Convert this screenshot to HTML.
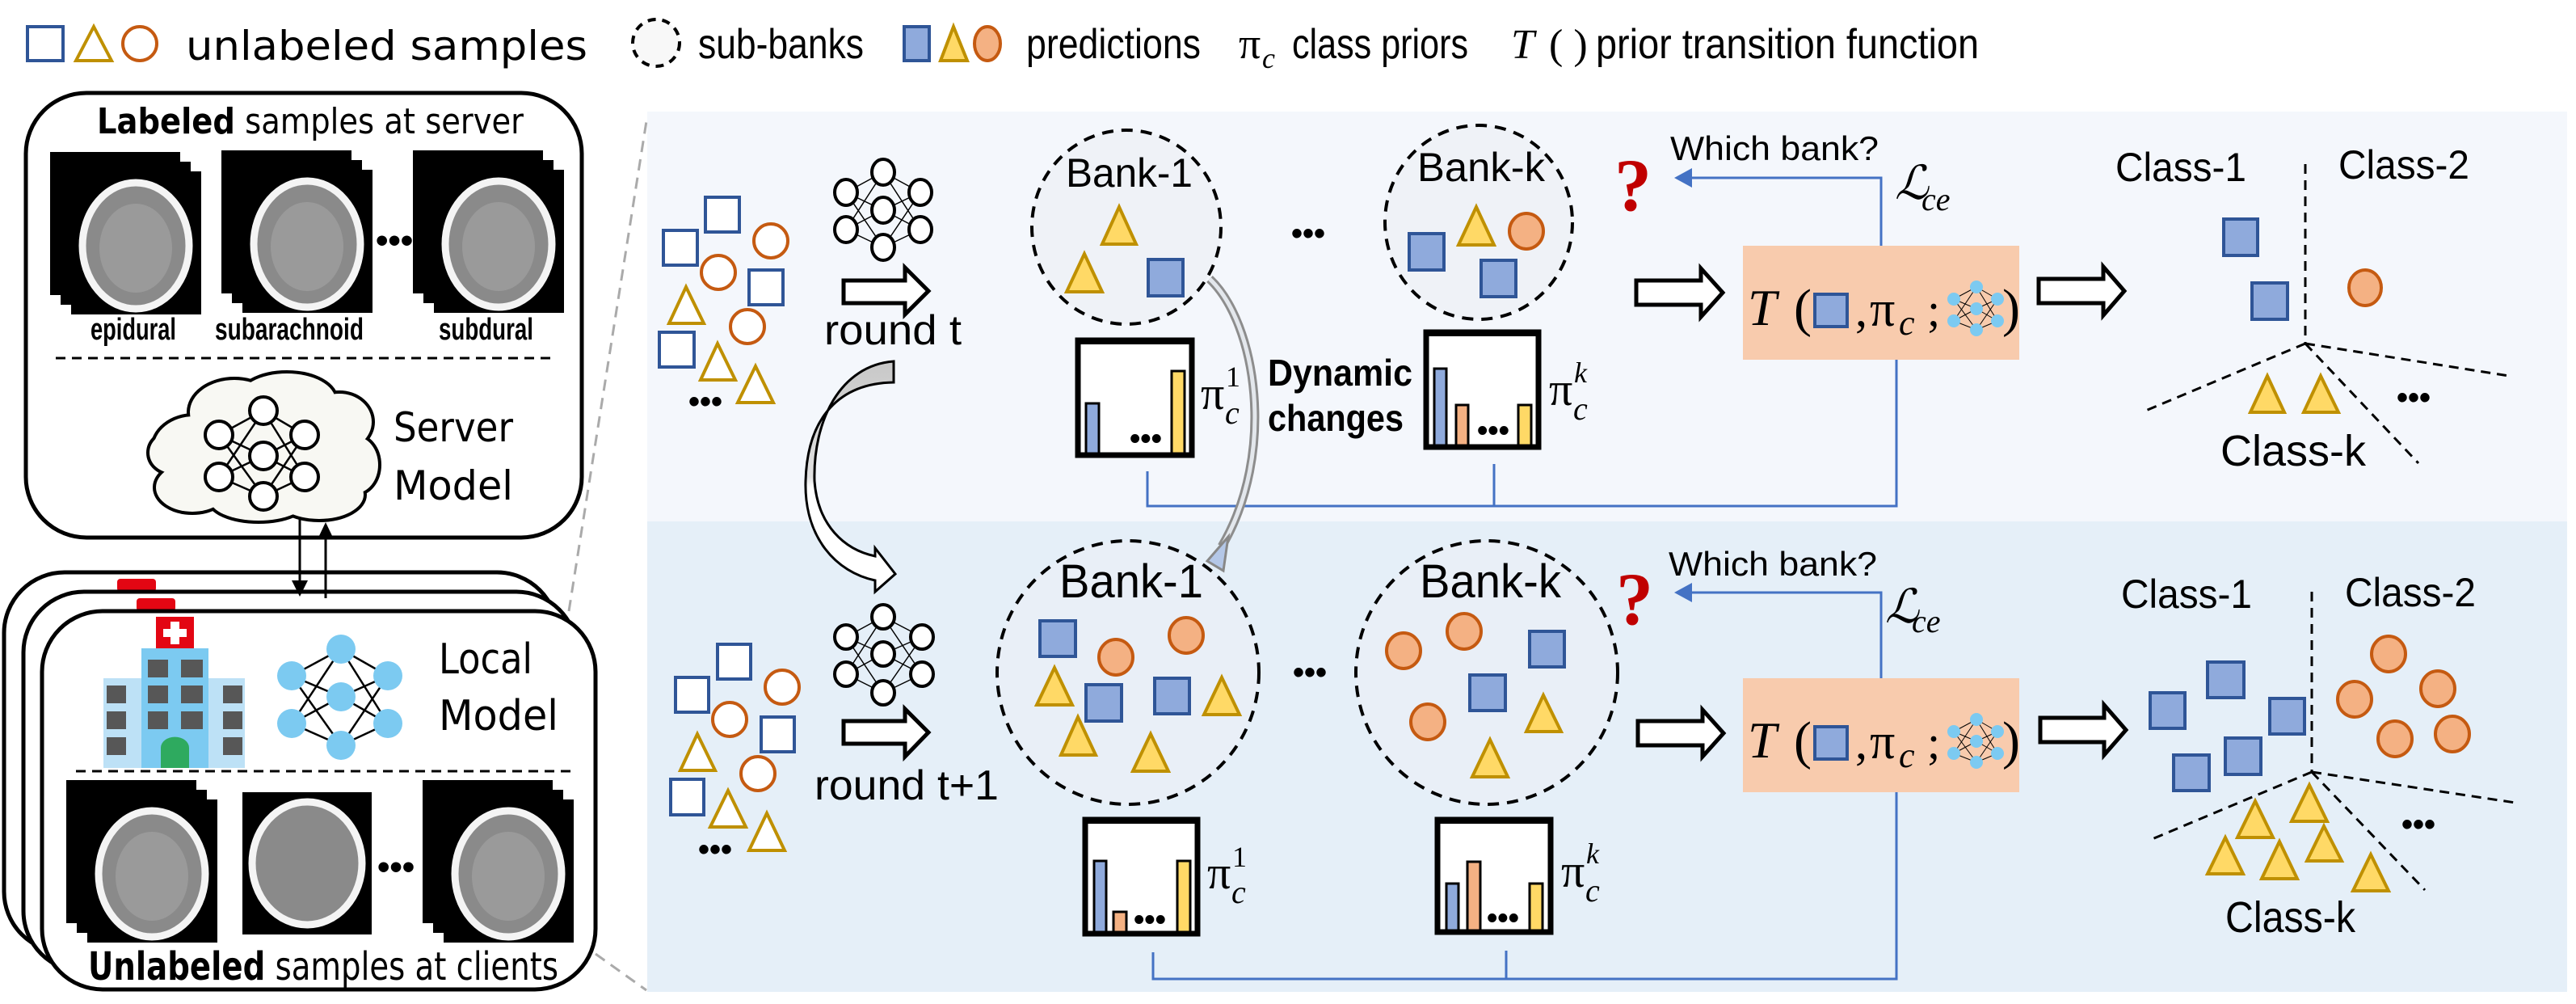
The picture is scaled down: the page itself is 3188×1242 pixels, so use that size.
<!DOCTYPE html>
<html><head><meta charset="utf-8"><style>
html,body{margin:0;padding:0;background:#fff}
svg{display:block}
.n{font-family:"Liberation Sans Narrow","Liberation Sans",sans-serif}
.w{font-family:"DejaVu Sans","Liberation Sans",sans-serif}
.m{font-family:"Liberation Serif","DejaVu Serif",serif;font-style:italic}
.mr{font-family:"Liberation Serif","DejaVu Serif",serif}
</style></head><body>
<svg width="3188" height="1242" viewBox="0 0 3188 1242" xmlns="http://www.w3.org/2000/svg">
<defs>
<g id="ct">
 <rect x="0" y="0" width="161" height="177" fill="#000"/>
 <ellipse cx="80" cy="92" rx="66" ry="78" fill="#8a8a8a" stroke="#f4f4f4" stroke-width="9"/>
 <ellipse cx="80" cy="95" rx="45" ry="55" fill="#9a9a9a"/>
</g>
<g id="stack">
 <rect x="0" y="0" width="161" height="177" fill="#000"/>
 <rect x="13" y="12" width="161" height="177" fill="#000"/>
 <use href="#ct" x="26" y="24"/>
</g>
</defs>

<!-- panels -->
<rect x="801" y="138" width="2376" height="507" fill="#f4f7fc"/>
<rect x="801" y="645" width="2376" height="582" fill="#e5eff8"/>

<!-- legend -->
<rect x="34" y="33" width="44" height="42" fill="#fff" stroke="#2f5597" stroke-width="4"/>
<polygon points="94,75 116,33 138,75" fill="#fff" stroke="#bf9000" stroke-width="4"/>
<ellipse cx="173" cy="54" rx="21" ry="21" fill="#fff" stroke="#c55a11" stroke-width="4"/>
<text x="230" y="74" class="w" font-size="50" textLength="497" lengthAdjust="spacingAndGlyphs">unlabeled samples</text>
<circle cx="812" cy="53" r="29" fill="#f8f8f8" stroke="#000" stroke-width="4" stroke-dasharray="10 8"/>
<text x="864" y="72" class="n" font-size="52" textLength="205" lengthAdjust="spacingAndGlyphs">sub-banks</text>
<rect x="1119" y="33" width="31" height="42" fill="#8faadc" stroke="#2f5597" stroke-width="4"/>
<polygon points="1164,75 1180,33 1197,75" fill="#ffd966" stroke="#bf9000" stroke-width="4"/>
<ellipse cx="1222" cy="54" rx="16" ry="21" fill="#f4b183" stroke="#c55a11" stroke-width="4"/>
<text x="1270" y="72" class="n" font-size="52" textLength="216" lengthAdjust="spacingAndGlyphs">predictions</text>
<text x="1533" y="72" class="mr" font-size="54">π</text><text x="1562" y="84" class="m" font-size="36">c</text>
<text x="1599" y="72" class="n" font-size="52" textLength="218" lengthAdjust="spacingAndGlyphs">class priors</text>
<text x="1870" y="72" class="m" font-size="52">T</text><text x="1917" y="72" class="mr" font-size="52">( )</text>
<text x="1975" y="72" class="n" font-size="52" textLength="474" lengthAdjust="spacingAndGlyphs">prior transition function</text>

<!-- grey dashed zoom lines -->
<line x1="704" y1="756" x2="800" y2="150" stroke="#aaa" stroke-width="3" stroke-dasharray="14 9"/>
<line x1="737" y1="1180" x2="800" y2="1225" stroke="#aaa" stroke-width="3" stroke-dasharray="14 9"/>

<!-- server box -->
<rect x="32" y="115" width="688" height="550" rx="75" ry="75" fill="#fff" stroke="#000" stroke-width="5"/>
<text x="120" y="165" class="w" font-size="44" textLength="528" lengthAdjust="spacingAndGlyphs"><tspan font-weight="bold">Labeled</tspan> samples at server</text>
<use href="#stack" x="62" y="188"/>
<use href="#stack" x="274" y="186"/>
<use href="#stack" x="511" y="186"/>
<text x="465" y="312" font-size="44" font-weight="bold" class="n">•••</text>
<text x="112" y="420" class="n" font-size="38" font-weight="bold" textLength="106" lengthAdjust="spacingAndGlyphs">epidural</text>
<text x="266" y="420" class="n" font-size="38" font-weight="bold" textLength="184" lengthAdjust="spacingAndGlyphs">subarachnoid</text>
<text x="543" y="420" class="n" font-size="38" font-weight="bold" textLength="117" lengthAdjust="spacingAndGlyphs">subdural</text>
<line x1="69" y1="443" x2="683" y2="443" stroke="#000" stroke-width="3" stroke-dasharray="12 8"/>

<!-- cloud -->
<g stroke="#000" stroke-width="8" fill="#f8f8f3">
<ellipse cx="240" cy="555" rx="50" ry="40"/><ellipse cx="290" cy="510" rx="55" ry="40"/><ellipse cx="355" cy="495" rx="60" ry="33"/><ellipse cx="420" cy="522" rx="40" ry="35"/><ellipse cx="440" cy="575" rx="28" ry="35"/><ellipse cx="395" cy="612" rx="55" ry="30"/><ellipse cx="320" cy="618" rx="60" ry="26"/><ellipse cx="238" cy="603" rx="45" ry="30"/><ellipse cx="213" cy="560" rx="28" ry="25"/>
</g>
<g fill="#f8f8f3">
<ellipse cx="240" cy="555" rx="50" ry="40"/><ellipse cx="290" cy="510" rx="55" ry="40"/><ellipse cx="355" cy="495" rx="60" ry="33"/><ellipse cx="420" cy="522" rx="40" ry="35"/><ellipse cx="440" cy="575" rx="28" ry="35"/><ellipse cx="395" cy="612" rx="55" ry="30"/><ellipse cx="320" cy="618" rx="60" ry="26"/><ellipse cx="238" cy="603" rx="45" ry="30"/><ellipse cx="213" cy="560" rx="28" ry="25"/><ellipse cx="330" cy="560" rx="110" ry="60"/>
</g>
<g stroke="#000" stroke-width="2.5">
<path d="M271 538L326 508M271 538L326 564M271 538L326 614M271 590L326 508M271 590L326 564M271 590L326 614M377 538L326 508M377 538L326 564M377 538L326 614M377 590L326 508M377 590L326 564M377 590L326 614"/>
</g>
<g fill="#fff" stroke="#000" stroke-width="4">
<circle cx="271" cy="538" r="17"/><circle cx="271" cy="590" r="17"/><circle cx="326" cy="508" r="17"/><circle cx="326" cy="564" r="17"/><circle cx="326" cy="614" r="17"/><circle cx="377" cy="538" r="17"/><circle cx="377" cy="590" r="17"/>
</g>
<text x="487" y="546" class="w" font-size="50" textLength="148" lengthAdjust="spacingAndGlyphs">Server</text>
<text x="487" y="618" class="w" font-size="50" textLength="148" lengthAdjust="spacingAndGlyphs">Model</text>

<!-- client boxes -->
<rect x="5" y="708" width="685" height="470" rx="75" fill="#fff" stroke="#000" stroke-width="5"/>
<rect x="145" y="716" width="48" height="16" rx="4" fill="#e30613"/>
<rect x="29" y="732" width="685" height="470" rx="75" fill="#fff" stroke="#000" stroke-width="5"/>
<rect x="169" y="740" width="48" height="16" rx="4" fill="#e30613"/>
<rect x="52" y="756" width="685" height="468" rx="75" fill="#fff" stroke="#000" stroke-width="5"/>
<line x1="371" y1="641" x2="371" y2="720" stroke="#000" stroke-width="3"/>
<polygon points="361,718 381,718 371,738" fill="#000"/>
<line x1="403" y1="740" x2="403" y2="665" stroke="#000" stroke-width="3"/>
<polygon points="393,667 413,667 403,646" fill="#000"/>
<!-- hospital -->
<rect x="128" y="839" width="175" height="111" fill="#bde1f6"/>
<rect x="175" y="802" width="83" height="148" fill="#7ccaf1"/>
<rect x="193" y="763" width="47" height="39" fill="#e30613"/>
<rect x="211" y="769" width="11" height="28" fill="#fff"/><rect x="202" y="778" width="29" height="10" fill="#fff"/>
<g fill="#575757">
<rect x="183" y="816" width="25" height="22"/><rect x="224" y="816" width="27" height="22"/>
<rect x="132" y="848" width="24" height="22"/><rect x="183" y="848" width="25" height="22"/><rect x="224" y="848" width="27" height="22"/><rect x="276" y="848" width="24" height="22"/>
<rect x="132" y="880" width="24" height="22"/><rect x="183" y="880" width="25" height="22"/><rect x="224" y="880" width="27" height="22"/><rect x="276" y="880" width="24" height="22"/>
<rect x="132" y="912" width="24" height="22"/><rect x="276" y="912" width="24" height="22"/>
</g>
<path d="M199 950V925a17 13 0 0 1 35 0V950Z" fill="#2eaa5f"/>
<g stroke="#000" stroke-width="2.5">
<path d="M361 836L422 803M361 836L422 862M361 836L422 922M361 895L422 803M361 895L422 862M361 895L422 922M480 836L422 803M480 836L422 862M480 836L422 922M480 895L422 803M480 895L422 862M480 895L422 922"/>
</g>
<g fill="#7ccaf1">
<ellipse cx="361" cy="836" rx="18" ry="18"/><ellipse cx="361" cy="895" rx="18" ry="18"/><ellipse cx="422" cy="803" rx="18" ry="18"/><ellipse cx="422" cy="862" rx="18" ry="18"/><ellipse cx="422" cy="922" rx="18" ry="18"/><ellipse cx="480" cy="836" rx="18" ry="18"/><ellipse cx="480" cy="895" rx="18" ry="18"/>
</g>
<text x="543" y="833" class="w" font-size="52" textLength="116" lengthAdjust="spacingAndGlyphs">Local</text>
<text x="543" y="903" class="w" font-size="52" textLength="148" lengthAdjust="spacingAndGlyphs">Model</text>
<line x1="94" y1="954" x2="709" y2="954" stroke="#000" stroke-width="3" stroke-dasharray="12 8"/>
<use href="#stack" x="82" y="965"/>
<rect x="300" y="980" width="160" height="176" fill="#000"/>
<ellipse cx="380" cy="1068" rx="68" ry="76" fill="#8a8a8a" stroke="#f4f4f4" stroke-width="9"/>
<use href="#stack" x="523" y="965"/>
<text x="467" y="1087" font-size="44" font-weight="bold" class="n">•••</text>
<text x="109" y="1212" class="w" font-size="48" textLength="582" lengthAdjust="spacingAndGlyphs"><tspan font-weight="bold">Unlabeled</tspan> samples at clients</text>

<!-- ===== TOP PANEL ===== -->
<g fill="#fff" stroke="#2f5597" stroke-width="4">
<rect x="873" y="244" width="42" height="43"/><rect x="821" y="285" width="42" height="43"/><rect x="927" y="334" width="42" height="43"/><rect x="816" y="411" width="43" height="43"/>
</g>
<g fill="#fff" stroke="#c55a11" stroke-width="4">
<circle cx="954" cy="298" r="21"/><circle cx="889" cy="337" r="21"/><circle cx="925" cy="404" r="21"/>
</g>
<g fill="#fff" stroke="#bf9000" stroke-width="4">
<polygon points="828,400 849,355 871,400"/><polygon points="867,470 888,425 910,470"/><polygon points="913,498 935,453 957,498"/>
</g>
<text x="852" y="510" font-size="40" font-weight="bold" class="n">•••</text>
<g stroke="#000" stroke-width="1.5">
<path d="M1047 238L1093 213M1047 238L1093 260M1047 238L1093 306M1047 284L1093 213M1047 284L1093 260M1047 284L1093 306M1139 238L1093 213M1139 238L1093 260M1139 238L1093 306M1139 284L1093 213M1139 284L1093 260M1139 284L1093 306"/>
</g>
<g fill="#fff" stroke="#000" stroke-width="4">
<ellipse cx="1047" cy="238" rx="14" ry="16"/><ellipse cx="1047" cy="284" rx="14" ry="16"/><ellipse cx="1093" cy="213" rx="14" ry="16"/><ellipse cx="1093" cy="260" rx="14" ry="16"/><ellipse cx="1093" cy="306" rx="14" ry="16"/><ellipse cx="1139" cy="238" rx="14" ry="16"/><ellipse cx="1139" cy="284" rx="14" ry="16"/>
</g>
<polygon points="1044,347 1120,347 1120,331 1149,360 1120,389 1120,375 1044,375" fill="#fff" stroke="#000" stroke-width="5"/>
<text x="1020" y="426" class="n" font-size="52" textLength="170" lengthAdjust="spacingAndGlyphs">round t</text>

<ellipse cx="1394" cy="281" rx="117" ry="120" fill="#eff2f7" stroke="#000" stroke-width="4" stroke-dasharray="14 10"/>
<text x="1319" y="231" class="n" font-size="50" textLength="157" lengthAdjust="spacingAndGlyphs">Bank-1</text>
<polygon points="1364,302 1385,256 1406,302" fill="#ffd966" stroke="#bf9000" stroke-width="4"/>
<polygon points="1320,361 1342,314 1364,361" fill="#ffd966" stroke="#bf9000" stroke-width="4"/>
<rect x="1421" y="321" width="43" height="45" fill="#8faadc" stroke="#2f5597" stroke-width="4"/>
<text x="1598" y="302" font-size="40" font-weight="bold" class="n">•••</text>
<ellipse cx="1830" cy="275" rx="116" ry="120" fill="#eff2f7" stroke="#000" stroke-width="4" stroke-dasharray="14 10"/>
<text x="1754" y="224" class="n" font-size="50" textLength="158" lengthAdjust="spacingAndGlyphs">Bank-k</text>
<rect x="1744" y="289" width="43" height="45" fill="#8faadc" stroke="#2f5597" stroke-width="4"/>
<polygon points="1805,303 1827,256 1849,303" fill="#ffd966" stroke="#bf9000" stroke-width="4"/>
<ellipse cx="1889" cy="286" rx="21" ry="22" fill="#f4b183" stroke="#c55a11" stroke-width="4"/>
<rect x="1833" y="322" width="43" height="45" fill="#8faadc" stroke="#2f5597" stroke-width="4"/>

<rect x="1334" y="421" width="141" height="142" fill="#fff" stroke="#000" stroke-width="7"/>
<rect x="1331" y="418" width="147" height="8" fill="#000"/>
<rect x="1344" y="499" width="16" height="62" fill="#8faadc" stroke="#000" stroke-width="3"/>
<rect x="1450" y="459" width="16" height="102" fill="#ffd966" stroke="#000" stroke-width="3"/>
<text x="1398" y="555" font-size="38" font-weight="bold" class="n">•••</text>
<text x="1486" y="506" class="mr" font-size="58">π</text><text x="1517" y="478" class="mr" font-size="36">1</text><text x="1516" y="524" class="m" font-size="40">c</text>
<rect x="1765" y="411" width="139" height="142" fill="#fff" stroke="#000" stroke-width="7"/>
<rect x="1762" y="408" width="145" height="8" fill="#000"/>
<rect x="1775" y="456" width="15" height="95" fill="#8faadc" stroke="#000" stroke-width="3"/>
<rect x="1802" y="501" width="15" height="50" fill="#f4b183" stroke="#000" stroke-width="3"/>
<rect x="1879" y="501" width="16" height="50" fill="#ffd966" stroke="#000" stroke-width="3"/>
<text x="1828" y="545" font-size="38" font-weight="bold" class="n">•••</text>
<text x="1917" y="501" class="mr" font-size="58">π</text><text x="1948" y="473" class="m" font-size="36">k</text><text x="1947" y="519" class="m" font-size="40">c</text>
<text x="1569" y="477" class="n" font-size="46" font-weight="bold" textLength="179" lengthAdjust="spacingAndGlyphs">Dynamic</text>
<text x="1569" y="533" class="n" font-size="46" font-weight="bold" textLength="168" lengthAdjust="spacingAndGlyphs">changes</text>

<g fill="none" stroke="#4472c4" stroke-width="3">
<path d="M1420 583V626H2347V432"/><path d="M1849 574V626"/>
<path d="M2328 304V220H2090"/>
</g>
<polygon points="2347,411 2335,435 2359,435" fill="#4472c4"/>
<polygon points="2072,220 2094,208 2094,232" fill="#4472c4"/>
<text x="2044" y="260" font-size="92" font-weight="bold" fill="#c00000" class="mr" text-anchor="end">?</text>
<text x="2067" y="198" class="n" font-size="42" textLength="258" lengthAdjust="spacingAndGlyphs">Which bank?</text>
<text x="2345" y="246" class="m" font-size="58">ℒ</text><text x="2378" y="260" class="m" font-size="40">ce</text>

<polygon points="2025,347 2105,347 2105,332 2132,362 2105,392 2105,377 2025,377" fill="#fff" stroke="#000" stroke-width="5"/>
<rect x="2157" y="304" width="342" height="141" fill="#f8cbad"/>
<text x="2163" y="402" class="m" font-size="64">T</text>
<text x="2220" y="403" class="mr" font-size="66">(</text>
<rect x="2246" y="364" width="40" height="40" fill="#8faadc" stroke="#2f5597" stroke-width="4"/>
<text x="2296" y="403" class="mr" font-size="60">,</text>
<text x="2314" y="403" class="mr" font-size="62">π</text>
<text x="2350" y="414" class="m" font-size="44">c</text>
<text x="2385" y="403" class="mr" font-size="58">;</text>
<g stroke="#000" stroke-width="1" fill="none"><path d="M2418 370L2446 355M2418 370L2446 382M2418 370L2446 408M2418 397L2446 355M2418 397L2446 382M2418 397L2446 408M2472 370L2446 355M2472 370L2446 382M2472 370L2446 408M2472 397L2446 355M2472 397L2446 382M2472 397L2446 408"/></g>
<g fill="#7ccaf1"><circle cx="2418" cy="370" r="8"/><circle cx="2418" cy="397" r="8"/><circle cx="2446" cy="355" r="8"/><circle cx="2446" cy="382" r="8"/><circle cx="2446" cy="408" r="8"/><circle cx="2472" cy="370" r="8"/><circle cx="2472" cy="397" r="8"/></g>
<text x="2478" y="403" class="mr" font-size="66">)</text>
<polygon points="2523,345 2603,345 2603,330 2629,360 2603,390 2603,375 2523,375" fill="#fff" stroke="#000" stroke-width="5"/>

<text x="2618" y="224" class="n" font-size="50" textLength="162" lengthAdjust="spacingAndGlyphs">Class-1</text>
<text x="2894" y="221" class="n" font-size="50" textLength="162" lengthAdjust="spacingAndGlyphs">Class-2</text>
<g stroke="#000" stroke-width="3" stroke-dasharray="12 8" fill="none">
<path d="M2853 203V425"/><path d="M2853 425L2653 509"/><path d="M2853 425L3105 465"/><path d="M2853 425L2993 573"/>
</g>
<rect x="2752" y="271" width="42" height="45" fill="#8faadc" stroke="#2f5597" stroke-width="4"/>
<rect x="2787" y="350" width="44" height="45" fill="#8faadc" stroke="#2f5597" stroke-width="4"/>
<ellipse cx="2927" cy="356" rx="20" ry="22" fill="#f4b183" stroke="#c55a11" stroke-width="4"/>
<polygon points="2785,510 2806,465 2827,510" fill="#ffd966" stroke="#bf9000" stroke-width="4"/>
<polygon points="2851,510 2872,465 2894,510" fill="#ffd966" stroke="#bf9000" stroke-width="4"/>
<text x="2966" y="505" font-size="40" font-weight="bold" class="n">•••</text>
<text x="2748" y="576" class="n" font-size="54" textLength="180" lengthAdjust="spacingAndGlyphs">Class-k</text>

<defs><linearGradient id="cg" x1="0" y1="0" x2="0" y2="1"><stop offset="0" stop-color="#c8c8c8"/><stop offset="0.5" stop-color="#e0e0e0"/><stop offset="0.55" stop-color="#fff"/><stop offset="1" stop-color="#fff"/></linearGradient></defs>
<path d="M1106,447 C1040,452 1006,520 1008,595 C1012,650 1045,680 1083,688 L1083,678 L1108,710 L1083,732 L1083,718 C1035,708 995,665 997,595 C999,515 1040,474 1106,473 Z" fill="url(#cg)" stroke="#000" stroke-width="3"/>
<path d="M1497,345 C1555,400 1580,560 1512,676" fill="none" stroke="#8d8d8d" stroke-width="11"/>
<path d="M1497,345 C1555,400 1580,560 1512,676" fill="none" stroke="#e3e7ec" stroke-width="5"/>
<polygon points="1520,664 1494,694 1514,706" fill="#b4c7e7" stroke="#888" stroke-width="3"/>

<!-- ===== BOTTOM PANEL ===== -->
<g fill="#fff" stroke="#2f5597" stroke-width="4">
<rect x="888" y="797" width="41" height="43"/><rect x="836" y="838" width="41" height="43"/><rect x="942" y="887" width="41" height="43"/><rect x="830" y="964" width="41" height="44"/>
</g>
<g fill="#fff" stroke="#c55a11" stroke-width="4">
<circle cx="968" cy="850" r="21"/><circle cx="903" cy="890" r="21"/><circle cx="938" cy="957" r="21"/>
</g>
<g fill="#fff" stroke="#bf9000" stroke-width="4">
<polygon points="842,953 863,908 885,953"/><polygon points="879,1023 901,978 923,1023"/><polygon points="927,1052 949,1006 971,1052"/>
</g>
<text x="864" y="1064" font-size="40" font-weight="bold" class="n">•••</text>
<g stroke="#000" stroke-width="1.5">
<path d="M1047 788L1093 763M1047 788L1093 809M1047 788L1093 857M1047 834L1093 763M1047 834L1093 809M1047 834L1093 857M1141 788L1093 763M1141 788L1093 809M1141 788L1093 857M1141 834L1093 763M1141 834L1093 809M1141 834L1093 857"/>
</g>
<g fill="#fff" stroke="#000" stroke-width="4">
<ellipse cx="1047" cy="788" rx="14" ry="15"/><ellipse cx="1047" cy="834" rx="14" ry="15"/><ellipse cx="1093" cy="763" rx="14" ry="15"/><ellipse cx="1093" cy="809" rx="14" ry="15"/><ellipse cx="1093" cy="857" rx="14" ry="15"/><ellipse cx="1141" cy="788" rx="14" ry="15"/><ellipse cx="1141" cy="834" rx="14" ry="15"/>
</g>
<polygon points="1044,892 1120,892 1120,877 1149,906 1120,936 1120,920 1044,920" fill="#fff" stroke="#000" stroke-width="5"/>
<text x="1008" y="989" class="n" font-size="52" textLength="228" lengthAdjust="spacingAndGlyphs">round t+1</text>

<ellipse cx="1396" cy="832" rx="162" ry="163" fill="#e9eff7" stroke="#000" stroke-width="4" stroke-dasharray="14 10"/>
<text x="1311" y="739" class="n" font-size="58" textLength="178" lengthAdjust="spacingAndGlyphs">Bank-1</text>
<g fill="#8faadc" stroke="#2f5597" stroke-width="4">
<rect x="1287" y="768" width="44" height="44"/><rect x="1344" y="847" width="44" height="45"/><rect x="1429" y="839" width="43" height="44"/>
</g>
<g fill="#f4b183" stroke="#c55a11" stroke-width="4">
<ellipse cx="1381" cy="813" rx="21" ry="22"/><ellipse cx="1468" cy="786" rx="21" ry="22"/>
</g>
<g fill="#ffd966" stroke="#bf9000" stroke-width="4">
<polygon points="1283,872 1305,826 1327,872"/><polygon points="1490,884 1512,838 1534,884"/><polygon points="1313,934 1334,887 1356,934"/><polygon points="1402,954 1424,908 1446,954"/>
</g>
<text x="1600" y="845" font-size="40" font-weight="bold" class="n">•••</text>
<ellipse cx="1840" cy="832" rx="162" ry="163" fill="#e9eff7" stroke="#000" stroke-width="4" stroke-dasharray="14 10"/>
<text x="1757" y="739" class="n" font-size="58" textLength="175" lengthAdjust="spacingAndGlyphs">Bank-k</text>
<g fill="#f4b183" stroke="#c55a11" stroke-width="4">
<ellipse cx="1737" cy="805" rx="21" ry="22"/><ellipse cx="1812" cy="781" rx="21" ry="22"/><ellipse cx="1767" cy="893" rx="21" ry="22"/>
</g>
<g fill="#8faadc" stroke="#2f5597" stroke-width="4">
<rect x="1893" y="781" width="43" height="44"/><rect x="1819" y="835" width="44" height="44"/>
</g>
<g fill="#ffd966" stroke="#bf9000" stroke-width="4">
<polygon points="1889,905 1910,860 1932,905"/><polygon points="1822,961 1844,915 1866,961"/>
</g>

<rect x="1343" y="1014" width="139" height="141" fill="#fff" stroke="#000" stroke-width="7"/>
<rect x="1340" y="1011" width="145" height="8" fill="#000"/>
<rect x="1354" y="1065" width="15" height="88" fill="#8faadc" stroke="#000" stroke-width="3"/>
<rect x="1378" y="1128" width="16" height="25" fill="#f4b183" stroke="#000" stroke-width="3"/>
<rect x="1457" y="1065" width="16" height="88" fill="#ffd966" stroke="#000" stroke-width="3"/>
<text x="1403" y="1150" font-size="38" font-weight="bold" class="n">•••</text>
<text x="1494" y="1099" class="mr" font-size="58">π</text><text x="1525" y="1072" class="mr" font-size="36">1</text><text x="1524" y="1117" class="m" font-size="40">c</text>
<rect x="1779" y="1014" width="140" height="139" fill="#fff" stroke="#000" stroke-width="7"/>
<rect x="1776" y="1011" width="146" height="8" fill="#000"/>
<rect x="1790" y="1093" width="15" height="58" fill="#8faadc" stroke="#000" stroke-width="3"/>
<rect x="1816" y="1066" width="16" height="85" fill="#f4b183" stroke="#000" stroke-width="3"/>
<rect x="1893" y="1093" width="16" height="58" fill="#ffd966" stroke="#000" stroke-width="3"/>
<text x="1840" y="1148" font-size="38" font-weight="bold" class="n">•••</text>
<text x="1932" y="1097" class="mr" font-size="58">π</text><text x="1963" y="1068" class="m" font-size="36">k</text><text x="1962" y="1115" class="m" font-size="40">c</text>

<g fill="none" stroke="#4472c4" stroke-width="3">
<path d="M1427 1178V1211H2347V976"/><path d="M1864 1176V1211"/>
<path d="M2328 839V733H2090"/>
</g>
<polygon points="2347,955 2335,979 2359,979" fill="#4472c4"/>
<polygon points="2072,733 2094,721 2094,745" fill="#4472c4"/>
<text x="2046" y="772" font-size="92" font-weight="bold" fill="#c00000" class="mr" text-anchor="end">?</text>
<text x="2065" y="712" class="n" font-size="42" textLength="258" lengthAdjust="spacingAndGlyphs">Which bank?</text>
<text x="2333" y="770" class="m" font-size="58">ℒ</text><text x="2366" y="782" class="m" font-size="40">ce</text>

<polygon points="2027,892 2107,892 2107,878 2133,907 2107,936 2107,922 2027,922" fill="#fff" stroke="#000" stroke-width="5"/>
<rect x="2157" y="839" width="342" height="141" fill="#f8cbad"/>
<text x="2163" y="937" class="m" font-size="64">T</text>
<text x="2220" y="938" class="mr" font-size="66">(</text>
<rect x="2246" y="899" width="40" height="40" fill="#8faadc" stroke="#2f5597" stroke-width="4"/>
<text x="2296" y="938" class="mr" font-size="60">,</text>
<text x="2314" y="938" class="mr" font-size="62">π</text>
<text x="2350" y="949" class="m" font-size="44">c</text>
<text x="2385" y="938" class="mr" font-size="58">;</text>
<g stroke="#000" stroke-width="1" fill="none"><path d="M2418 905L2446 890M2418 905L2446 917M2418 905L2446 943M2418 932L2446 890M2418 932L2446 917M2418 932L2446 943M2472 905L2446 890M2472 905L2446 917M2472 905L2446 943M2472 932L2446 890M2472 932L2446 917M2472 932L2446 943"/></g>
<g fill="#7ccaf1"><circle cx="2418" cy="905" r="8"/><circle cx="2418" cy="932" r="8"/><circle cx="2446" cy="890" r="8"/><circle cx="2446" cy="917" r="8"/><circle cx="2446" cy="943" r="8"/><circle cx="2472" cy="905" r="8"/><circle cx="2472" cy="932" r="8"/></g>
<text x="2478" y="938" class="mr" font-size="66">)</text>
<polygon points="2525,888 2604,888 2604,872 2631,903 2604,934 2604,918 2525,918" fill="#fff" stroke="#000" stroke-width="5"/>

<text x="2625" y="752" class="n" font-size="50" textLength="162" lengthAdjust="spacingAndGlyphs">Class-1</text>
<text x="2902" y="750" class="n" font-size="50" textLength="162" lengthAdjust="spacingAndGlyphs">Class-2</text>
<g stroke="#000" stroke-width="3" stroke-dasharray="12 8" fill="none">
<path d="M2861 732V955"/><path d="M2861 955L2661 1039"/><path d="M2861 955L3113 993"/><path d="M2861 955L3001 1101"/>
</g>
<g fill="#8faadc" stroke="#2f5597" stroke-width="4">
<rect x="2661" y="857" width="43" height="44"/><rect x="2732" y="819" width="45" height="44"/><rect x="2809" y="864" width="43" height="44"/><rect x="2754" y="913" width="44" height="45"/><rect x="2690" y="934" width="44" height="44"/>
</g>
<g fill="#f4b183" stroke="#c55a11" stroke-width="4">
<ellipse cx="2956" cy="809" rx="21" ry="22"/><ellipse cx="2914" cy="865" rx="21" ry="22"/><ellipse cx="3017" cy="852" rx="21" ry="22"/><ellipse cx="2964" cy="914" rx="21" ry="22"/><ellipse cx="3035" cy="908" rx="21" ry="22"/>
</g>
<g fill="#ffd966" stroke="#bf9000" stroke-width="4">
<polygon points="2836,1016 2858,971 2880,1016"/><polygon points="2769,1036 2791,991 2813,1036"/><polygon points="2855,1065 2876,1022 2898,1065"/><polygon points="2732,1081 2754,1036 2776,1081"/><polygon points="2799,1087 2821,1041 2843,1087"/><polygon points="2912,1102 2934,1057 2956,1102"/>
</g>
<text x="2972" y="1033" font-size="40" font-weight="bold" class="n">•••</text>
<text x="2754" y="1153" class="n" font-size="54" textLength="161" lengthAdjust="spacingAndGlyphs">Class-k</text>
</svg>
</body></html>
